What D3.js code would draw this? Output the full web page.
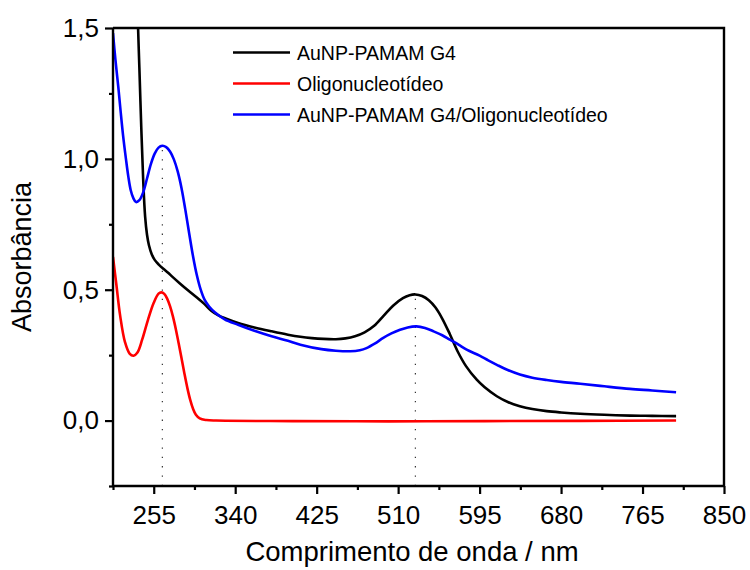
<!DOCTYPE html>
<html><head><meta charset="utf-8">
<script src="https://cdn.jsdelivr.net/npm/d3@7"></script>
<style>body{margin:0;background:#fff}svg{display:block}text{font-family:"Liberation Sans",Arial,sans-serif}</style>
</head><body><div id="chart"></div>
<script>
const xTicks = [255, 340, 425, 510, 595, 680, 765, 850];
const yTicks = [0.0, 0.5, 1.0, 1.5];
const yTickLabels = ["0,0", "0,5", "1,0", "1,5"];
const seriesNames = ["AuNP-PAMAM G4", "Oligonucleotídeo", "AuNP-PAMAM G4/Oligonucleotídeo"];
const seriesColors = ["#000000", "#ff0000", "#0000ff"];

const blackWl = [236,238.5,240,242,244,246,248,250,253,256,260,265,270,274,282,291,300,308,315,322,330,343,360,378,395,408,420,432,445,455,465,475,485,495,505,515,522,528,535,542,549,556,564,572,581,592,600,613,625,637,650,665,680,700,725,752,775,800];
const blackAbs = [1.9,1.52,1.35,1.12,0.92,0.78,0.71,0.67,0.635,0.614,0.597,0.58,0.565,0.551,0.525,0.497,0.47,0.445,0.42,0.403,0.39,0.373,0.356,0.341,0.328,0.32,0.315,0.312,0.311,0.314,0.322,0.337,0.362,0.401,0.44,0.468,0.479,0.482,0.476,0.46,0.432,0.39,0.33,0.265,0.207,0.156,0.128,0.093,0.07,0.055,0.044,0.036,0.031,0.026,0.022,0.019,0.018,0.017];

const redWl = [212.5,216,220,225,230,234,238,243,249,255,260,263,266,269,272,275,278,281,284,287,290,293,296,299,303,310,320,400,500,600,700,800];
const redAbs = [0.625,0.52,0.40,0.30,0.255,0.248,0.26,0.31,0.385,0.45,0.485,0.49,0.484,0.466,0.437,0.398,0.35,0.295,0.238,0.18,0.126,0.08,0.045,0.022,0.008,0.002,0.0,-0.002,-0.003,-0.002,-0.001,0.0];

const blueWl = [212.5,215,218,220.5,223,226,228.5,231,233.7,236.5,240,244,248,252,256,260,264,268,272,276,280,284,288,292,296,300,304,308,313,319,329,343,360,378,395,408,430,445,460,470,477,486,494.5,503,512,520,529,538,547,556,564,573,581.5,595,604,613,625,637,650,665,680,700,725,752,775,800];
const blueAbs = [1.48,1.38,1.276,1.18,1.09,1.0,0.932,0.88,0.85,0.835,0.842,0.872,0.925,0.98,1.02,1.043,1.05,1.045,1.028,0.998,0.952,0.888,0.805,0.715,0.628,0.555,0.5,0.462,0.435,0.413,0.387,0.366,0.343,0.322,0.305,0.29,0.273,0.267,0.265,0.269,0.277,0.295,0.316,0.333,0.347,0.356,0.36,0.354,0.341,0.326,0.309,0.29,0.271,0.248,0.23,0.213,0.192,0.176,0.164,0.155,0.148,0.141,0.131,0.121,0.115,0.108];

const markerWl = [264, 528];
const markerAbs = [1.04, 0.47];

const W = 750, H = 570;
const m = {l: 113, r: 26, t: 28, b: 84};
const FONT = '"Liberation Sans", Arial, sans-serif';
const svg = d3.select("#chart").append("svg").attr("width", W).attr("height", H);
const x = d3.scaleLinear().domain([212.5, 850]).range([m.l, W - m.r]);
const y = d3.scaleLinear().domain([-0.25, 1.5]).range([H - m.b, m.t]);

svg.append("defs").append("clipPath").attr("id", "clip")
  .append("rect").attr("x", m.l).attr("y", m.t).attr("width", x.range()[1] - m.l).attr("height", y.range()[0] - m.t);

const g = svg.append("g").attr("clip-path", "url(#clip)");
markerWl.forEach((w, i) => {
  g.append("line").attr("x1", x(w)).attr("x2", x(w)).attr("y1", y(-0.25)).attr("y2", y(markerAbs[i]))
    .attr("stroke", "#333").attr("stroke-width", 1.2).attr("stroke-dasharray", "1.3,8");
});

const line = d3.line().x(d => x(d[0])).y(d => y(d[1])).curve(d3.curveCatmullRom.alpha(0.5));
const series = [
  d3.zip(blackWl, blackAbs),
  d3.zip(redWl, redAbs),
  d3.zip(blueWl, blueAbs)
];
series.forEach((s, i) => {
  g.append("path").datum(s).attr("d", line).attr("fill", "none")
    .attr("stroke", seriesColors[i]).attr("stroke-width", 2.6).attr("stroke-linejoin", "round");
});

const xMinor = d3.range(212.5, 851, 42.5).filter(v => !xTicks.includes(v));
const yMinor = [-0.25, 0.25, 0.75, 1.25];
const xAxis = svg.append("g").attr("transform", `translate(0,${y(-0.25)})`)
  .call(d3.axisBottom(x).tickValues(xTicks).tickSize(8).tickPadding(12).tickFormat(d3.format("d")));
svg.append("g").attr("transform", `translate(0,${y(-0.25)})`)
  .call(d3.axisBottom(x).tickValues(xMinor).tickSize(4).tickFormat(""))
  .call(a => a.select(".domain").remove());
const yAxis = svg.append("g").attr("transform", `translate(${m.l},0)`)
  .call(d3.axisLeft(y).tickValues(yTicks).tickSize(8).tickPadding(6).tickFormat((d, i) => yTickLabels[i]));
svg.append("g").attr("transform", `translate(${m.l},0)`)
  .call(d3.axisLeft(y).tickValues(yMinor).tickSize(4).tickFormat(""))
  .call(a => a.select(".domain").remove());
svg.selectAll(".domain").attr("stroke", "#000").attr("stroke-width", 2.4);
svg.selectAll(".tick line").attr("stroke", "#000").attr("stroke-width", 2.2);
svg.selectAll(".tick text").attr("font-size", 26).attr("fill", "#000").style("font-family", FONT);
xAxis.selectAll(".domain").attr("d", `M${m.l},0H${W - m.r}`);
yAxis.selectAll(".domain").attr("d", `M0,${y(-0.25)}V${m.t}`);

svg.append("path").attr("d", `M${m.l},${m.t}H${W - m.r}V${y(-0.25)}`)
  .attr("fill", "none").attr("stroke", "#000").attr("stroke-width", 2.4);

svg.append("text").attr("x", 412).attr("y", 561).attr("text-anchor", "middle")
  .attr("font-size", 27.5).text("Comprimento de onda / nm");
svg.append("text").attr("transform", `translate(31,${(m.t + y(-0.25)) / 2}) rotate(-90)`)
  .attr("text-anchor", "middle").attr("font-size", 27).text("Absorbância");

const leg = svg.append("g");
seriesNames.forEach((n, i) => {
  const yy = 52.5 + i * 31;
  leg.append("line").attr("x1", 233).attr("x2", 290).attr("y1", yy).attr("y2", yy)
    .attr("stroke", seriesColors[i]).attr("stroke-width", 2.6);
  leg.append("text").attr("x", 297).attr("y", yy + 7.5).attr("font-size", 19.5).text(n);
});
</script></body></html>
